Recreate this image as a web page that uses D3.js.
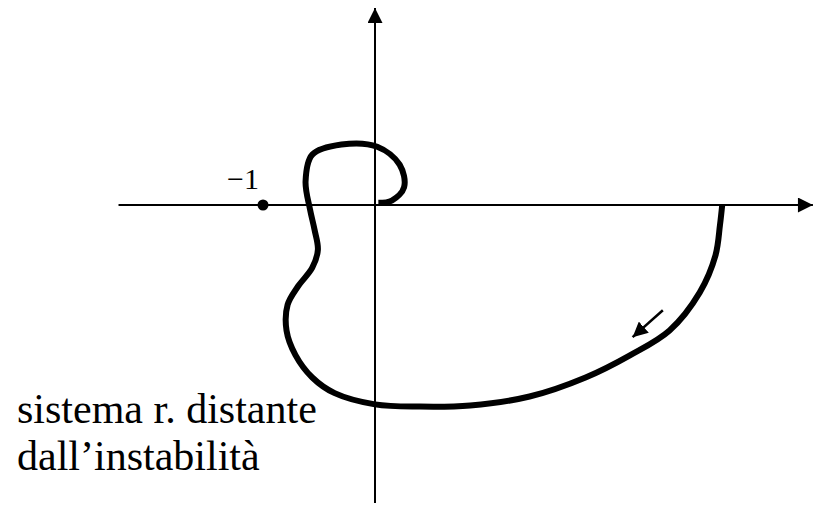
<!DOCTYPE html>
<html lang="it">
<head>
  <meta charset="UTF-8">
  <title>Nyquist</title>
  <script src="https://d3js.org/d3.v7.min.js"></script>
  <style>
    * { margin: 0; padding: 0; box-sizing: border-box; }
    body { background: white; }
  </style>
</head>
<body>
  <div id="chart"></div>
  <script>
    // Nyquist curve, from omega = 0 (right on the real axis) to the origin
    const curveRe = [3.10, 3.08, 3.04, 2.90, 2.63, 2.28, 1.88, 1.38, 0.85, 0.40, 0.00,
                     -0.36, -0.56, -0.71, -0.79, -0.78, -0.69, -0.56, -0.51, -0.54, -0.58,
                     -0.62, -0.56, -0.30, 0.02, 0.22, 0.26, 0.15, 0.03];
    const curveIm = [0.00, -0.18, -0.45, -0.78, -1.12, -1.34, -1.54, -1.71, -1.79, -1.80, -1.78,
                     -1.68, -1.54, -1.34, -1.12, -0.89, -0.73, -0.56, -0.40, -0.22, -0.04,
                     0.21, 0.45, 0.54, 0.52, 0.36, 0.16, 0.04, 0.02];
    const criticalPoint = [-1, 0];
    const criticalLabel = "\u22121";
    const dirArrow = [[2.57, -0.94], [2.30, -1.18]];
    const noteLines = ["sistema r. distante", "dall\u2019instabilit\u00e0"];
    const reRange = [-2.29, 3.91];
    const imRange = [-2.66, 1.76];

    const serif = "Liberation Serif";
    const width = 821, height = 506;
    const x = d3.scaleLinear().domain([-1, 0]).range([263, 375]);
    const y = d3.scaleLinear().domain([0, -1]).range([205, 317]);

    const svg = d3.select("#chart").append("svg")
      .attr("width", width).attr("height", height);

    const defs = svg.append("defs");
    defs.append("marker")
      .attr("id", "axhead")
      .attr("viewBox", "0 0 10 10")
      .attr("refX", 10).attr("refY", 5)
      .attr("markerWidth", 8).attr("markerHeight", 7.5)
      .attr("markerUnits", "strokeWidth")
      .attr("orient", "auto")
      .append("path").attr("d", "M0,0 L10,5 L0,10 Z").attr("fill", "#000");
    defs.append("marker")
      .attr("id", "smallhead")
      .attr("viewBox", "0 0 10 10")
      .attr("refX", 10).attr("refY", 5)
      .attr("markerWidth", 6).attr("markerHeight", 6)
      .attr("markerUnits", "strokeWidth")
      .attr("orient", "auto")
      .append("path").attr("d", "M0,0 L10,5 L0,10 Z").attr("fill", "#000");

    // axes
    svg.append("line")
      .attr("x1", x(reRange[0])).attr("y1", y(0))
      .attr("x2", x(reRange[1])).attr("y2", y(0))
      .attr("stroke", "#000").attr("stroke-width", 2)
      .attr("marker-end", "url(#axhead)");
    svg.append("line")
      .attr("x1", x(0)).attr("y1", y(imRange[0]))
      .attr("x2", x(0)).attr("y2", y(imRange[1]))
      .attr("stroke", "#000").attr("stroke-width", 2)
      .attr("marker-end", "url(#axhead)");

    // Nyquist curve
    const pts = curveRe.map((r, i) => [r, curveIm[i]]);
    svg.append("path")
      .datum(pts)
      .attr("d", d3.line().x(d => x(d[0])).y(d => y(d[1])).curve(d3.curveCatmullRom.alpha(0.5)))
      .attr("fill", "none")
      .attr("stroke", "#000")
      .attr("stroke-width", 6)
      .attr("stroke-linecap", "butt")
      .attr("stroke-linejoin", "round");

    // direction arrow
    svg.append("line")
      .attr("x1", x(dirArrow[0][0])).attr("y1", y(dirArrow[0][1]))
      .attr("x2", x(dirArrow[1][0])).attr("y2", y(dirArrow[1][1]))
      .attr("stroke", "#000").attr("stroke-width", 2.5)
      .attr("marker-end", "url(#smallhead)");

    // -1 point
    svg.append("circle")
      .attr("cx", x(criticalPoint[0])).attr("cy", y(criticalPoint[1]))
      .attr("r", 5.5).attr("fill", "#000");
    svg.append("text")
      .attr("x", x(criticalPoint[0]) - 36).attr("y", y(0) - 16)
      .attr("font-family", serif)
      .attr("font-size", 30)
      .text(criticalLabel);

    // note
    svg.selectAll(".note")
      .data(noteLines)
      .enter().append("text")
      .attr("class", "note")
      .attr("x", 17)
      .attr("y", (d, i) => 423 + i * 47)
      .attr("font-family", serif)
      .attr("font-size", 42)
      .text(d => d);
  </script>
</body>
</html>
